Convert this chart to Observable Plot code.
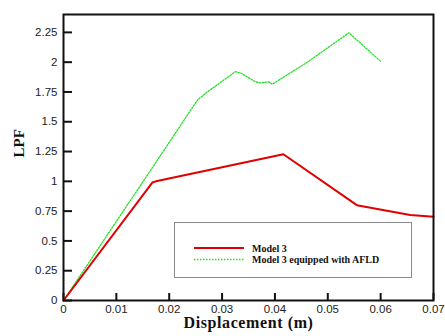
<!DOCTYPE html>
<html><head><meta charset="utf-8">
<script src="https://cdn.jsdelivr.net/npm/d3@7"></script>
<script src="https://cdn.jsdelivr.net/npm/@observablehq/plot@0.6"></script>
<style>
body{margin:0;background:#fff;}
#wrap{position:relative;width:445px;height:336px;}
#legend{position:absolute;left:174px;top:222px;width:238px;height:56px;border:1px solid #8a8a8a;background:#fff;box-sizing:border-box;}
</style>
</head><body>
<div id="wrap"></div>
<script>
const seriesNames = ["Model 3", "Model 3 equipped with AFLD"];
const model3X = [0, 0.0168, 0.0175, 0.0416, 0.0555, 0.0656, 0.07];
const model3Y = [0, 0.99, 1.0, 1.227, 0.80, 0.717, 0.703];
const afldX = [0, 0.0254, 0.0272, 0.0325, 0.0335, 0.0363, 0.0373, 0.0388, 0.0395, 0.0458, 0.054, 0.0601];
const afldY = [0, 1.685, 1.75, 1.92, 1.91, 1.835, 1.826, 1.835, 1.815, 1.99, 2.246, 2.003];
const xTicks = [0, 0.01, 0.02, 0.03, 0.04, 0.05, 0.06, 0.07];
const yTicks = [0, 0.25, 0.5, 0.75, 1, 1.25, 1.5, 1.75, 2, 2.25];
const colors = ["#e00000", "#22e022"];

const red = model3X.map((x, i) => ({x, y: model3Y[i]}));
const green = afldX.map((x, i) => ({x, y: afldY[i]}));

const sans = "Liberation Sans, Arial, sans-serif";
const serif = "Liberation Serif, Times New Roman, serif";

const chart = Plot.plot({
  width: 445, height: 336,
  marginLeft: 63, marginRight: 12, marginTop: 14, marginBottom: 36,
  style: {fontFamily: sans, fontSize: "11.5px", color: "#222", background: "#fff"},
  x: {domain: [0, 0.07]},
  y: {domain: [0, 2.4]},
  marks: [
    Plot.axisX({ticks: xTicks, tickSize: 7, dy: -7, tickFormat: () => "", label: null, strokeWidth: 2, stroke: "#111"}),
    Plot.axisX({ticks: xTicks, tickSize: 0, tickPadding: 4, tickFormat: d => String(d), label: null}),
    Plot.axisY({ticks: yTicks, tickSize: 9, dx: 9, tickFormat: () => "", label: null, strokeWidth: 2, stroke: "#111"}),
    Plot.axisY({ticks: yTicks, tickSize: 0, tickPadding: 6, tickFormat: d => String(d), label: null}),
    Plot.line(green, {x: "x", y: "y", stroke: colors[1], strokeWidth: 1.3, strokeDasharray: "1.5,1.5"}),
    Plot.line(red, {x: "x", y: "y", stroke: colors[0], strokeWidth: 2}),
    Plot.frame({stroke: "#111", strokeWidth: 2}),
    Plot.text(["Displacement (m)"], {frameAnchor: "bottom", dy: 27, fontFamily: serif, fontWeight: "bold", fontSize: 16, fill: "#111"}),
    Plot.text(["LPF"], {frameAnchor: "left", dx: -44, rotate: -90, fontFamily: serif, fontWeight: "bold", fontSize: 15, fill: "#111"})
  ]
});
const wrap = document.getElementById("wrap");
wrap.appendChild(chart);
chart.querySelectorAll("text").forEach(t => { if (t.textContent === "Displacement (m)") t.setAttribute("letter-spacing", "0.6"); });

const leg = document.createElement("div");
leg.id = "legend";
const svgNS = "http://www.w3.org/2000/svg";
const ls = document.createElementNS(svgNS, "svg");
ls.setAttribute("width", 236); ls.setAttribute("height", 54);
seriesNames.forEach((name, i) => {
  const cy = 25 + i * 11.5;
  const line = document.createElementNS(svgNS, "line");
  line.setAttribute("x1", 19); line.setAttribute("x2", 69);
  line.setAttribute("y1", cy); line.setAttribute("y2", cy);
  line.setAttribute("stroke", colors[i]);
  line.setAttribute("stroke-width", i === 0 ? 2 : 1.3);
  if (i === 1) line.setAttribute("stroke-dasharray", "1.5,1.5");
  ls.appendChild(line);
  const t = document.createElementNS(svgNS, "text");
  t.setAttribute("x", 77); t.setAttribute("y", cy);
  t.setAttribute("dy", "0.35em");
  t.setAttribute("font-family", serif);
  t.setAttribute("font-weight", "bold");
  t.setAttribute("font-size", 10);
  t.setAttribute("fill", "#111");
  t.textContent = name;
  ls.appendChild(t);
});
leg.appendChild(ls);
wrap.appendChild(leg);
</script>
</body></html>
